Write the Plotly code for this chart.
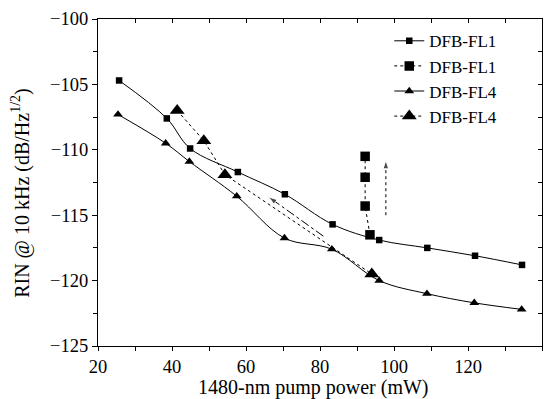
import plotly.graph_objects as go

# Data
fl1_x = [25.7, 38.6, 44.9, 57.8, 70.5, 83.4, 96.0, 109.0, 121.9, 134.6]
fl1_y = [-104.7, -107.6, -109.9, -111.7, -113.4, -115.7, -116.9, -117.5, -118.1, -118.8]
fl1b_x = [93.5, 92.2, 92.2, 92.2]
fl1b_y = [-116.5, -114.3, -112.1, -110.5]
fl4_x = [25.4, 38.3, 44.7, 57.5, 70.4, 83.2, 96.0, 108.9, 121.7, 134.5]
fl4_y = [-107.3, -109.5, -110.9, -113.55, -116.75, -117.6, -120.0, -121.0, -121.7, -122.2]
fl4b_x = [41.4, 48.6, 54.3, 94.0]
fl4b_y = [-107.0, -109.3, -111.9, -119.5]

# arrows: (tail_x, tail_y, tip_x, tip_y, dash)
arrows = [
    (97.8, -115.0, 97.8, -110.8, "dot"),
    (80.9, -116.6, 66.1, -113.6, "dashdot"),
]

X_TITLE = "1480-nm pump power (mW)"
Y_TITLE = "RIN @ 10 kHz (dB/Hz<sup>1/2</sup>)"

FONT = "Liberation Serif"

fig = go.Figure()
fig.add_trace(go.Scatter(x=fl1_x, y=fl1_y, name="DFB-FL1", mode="lines+markers",
                         line=dict(color="black", width=1, shape="spline"),
                         marker=dict(symbol="square", size=6.5, color="black")))
fig.add_trace(go.Scatter(x=fl1b_x, y=fl1b_y, name="DFB-FL1", mode="lines+markers",
                         line=dict(color="black", width=1, dash="dot"),
                         marker=dict(symbol="square", size=9.5, color="black")))
fig.add_trace(go.Scatter(x=fl4_x, y=fl4_y, name="DFB-FL4", mode="lines+markers",
                         line=dict(color="black", width=1, shape="spline"),
                         marker=dict(symbol="triangle-up", size=8.5, color="black")))
fig.add_trace(go.Scatter(x=fl4b_x, y=fl4b_y, name="DFB-FL4", mode="lines+markers",
                         line=dict(color="black", width=1, dash="dot"),
                         marker=dict(symbol="triangle-up", size=13, color="black")))

for tx, ty, hx, hy, dash in arrows:
    fig.add_trace(go.Scatter(x=[tx, hx], y=[ty, hy], mode="lines+markers",
                             line=dict(color="black", width=1, dash=dash),
                             marker=dict(symbol="arrow", size=[0, 9], color="black",
                                         angleref="previous"),
                             showlegend=False, hoverinfo="skip"))

fig.add_trace(go.Scatter(x=[20, 140], y=[-125, -100], xaxis="x2", yaxis="y2",
                         mode="markers", marker=dict(opacity=0), showlegend=False,
                         hoverinfo="skip"))

W, H, L, T, R, B = 551, 399, 98, 15, 9, 53
pw, ph = W - L - R, H - T - B

axis_common = dict(showgrid=False, zeroline=False, linecolor="black", linewidth=1,
                   tickcolor="black", tickfont=dict(family=FONT, size=18.5, color="black"))

fig.update_layout(
    width=W, height=H,
    margin=dict(l=L, r=R, t=T, b=B),
    paper_bgcolor="white", plot_bgcolor="white",
    font=dict(family=FONT, size=19, color="black"),
    showlegend=True,
    legend=dict(x=0.656, y=0.987, xanchor="left", yanchor="top",
                bgcolor="rgba(0,0,0,0)", font=dict(family=FONT, size=17, color="black"),
                tracegroupgap=0, itemwidth=30),
    xaxis=dict(range=[20, 140], tickmode="linear", tick0=20, dtick=20,
               ticks="outside", ticklen=4,
               minor=dict(dtick=10, ticks="outside", ticklen=4, tickcolor="black"),
               showline=True, **axis_common),
    yaxis=dict(range=[-125, -100], tickmode="linear", tick0=-125, dtick=5,
               ticks="outside", ticklen=5,
               minor=dict(dtick=2.5, ticks="outside", ticklen=4, tickcolor="black"),
               showline=True, **axis_common),
    xaxis2=dict(range=[20, 140], overlaying="x", side="top", tickmode="linear",
                tick0=20, dtick=10, ticks="inside", ticklen=4, showticklabels=False,
                showline=True, **axis_common),
    yaxis2=dict(range=[-125, -100], overlaying="y", side="right", tickmode="linear",
                tick0=-125, dtick=2.5, ticks="inside", ticklen=4, showticklabels=False,
                showline=True, **axis_common),
)
fig.add_annotation(text=X_TITLE, xref="paper", yref="paper",
                   x=(313.5 - L) / pw, y=(H - B - 388.5) / ph, xanchor="center", yanchor="middle",
                   showarrow=False, font=dict(family=FONT, size=20, color="black"))
fig.add_annotation(text=Y_TITLE, xref="paper", yref="paper",
                   x=(21 - L) / pw, y=(H - B - 191) / ph, xanchor="center", yanchor="middle",
                   textangle=-90, showarrow=False, font=dict(family=FONT, size=20, color="black"))

fig.write_html("out.html")
